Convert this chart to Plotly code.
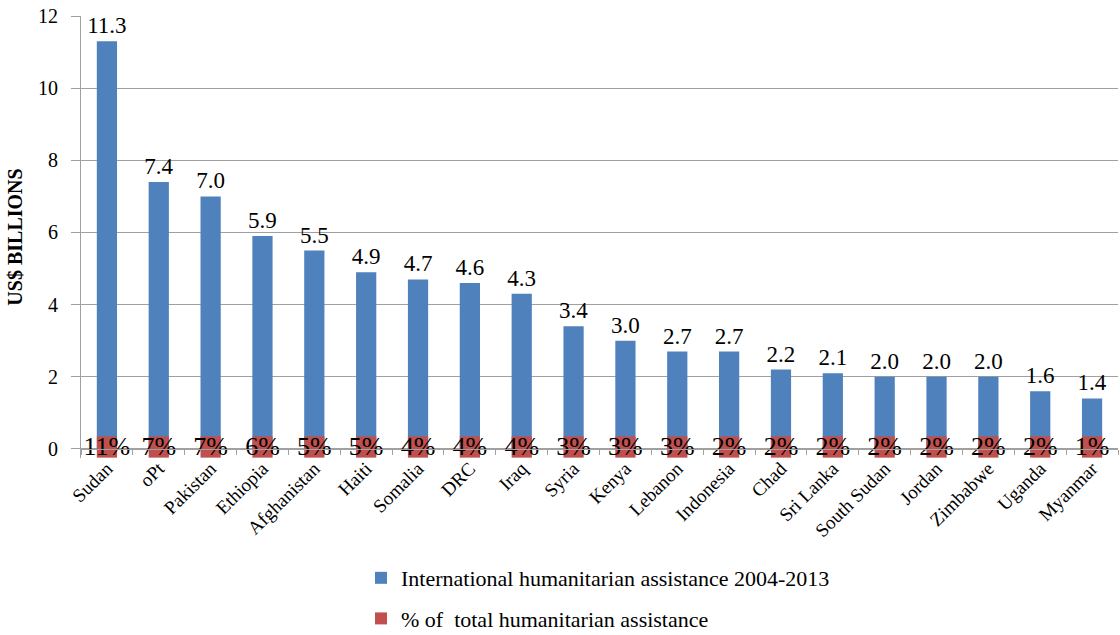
import plotly.graph_objects as go

countries = ["Sudan", "oPt", "Pakistan", "Ethiopia", "Afghanistan", "Haiti", "Somalia", "DRC",
             "Iraq", "Syria", "Kenya", "Lebanon", "Indonesia", "Chad", "Sri Lanka", "South Sudan",
             "Jordan", "Zimbabwe", "Uganda", "Myanmar"]
assistance_bn = [11.3, 7.4, 7.0, 5.9, 5.5, 4.9, 4.7, 4.6, 4.3, 3.4, 3.0, 2.7, 2.7, 2.2, 2.1,
                 2.0, 2.0, 2.0, 1.6, 1.4]
share_pct = [11, 7, 7, 6, 5, 5, 4, 4, 4, 3, 3, 3, 2, 2, 2, 2, 2, 2, 2, 1]

BLUE = "#4F81BD"
RED = "#C0504D"
SERIF = "Liberation Serif"

Y_MIN, Y_MAX = -0.25, 12
MARK_BASE, MARK_H = -0.24, 0.59  # fixed-size marker for the % series

fig = go.Figure()
fig.add_trace(go.Bar(
    x=countries, y=assistance_bn, name="International humanitarian assistance 2004-2013",
    marker=dict(color=BLUE, line=dict(width=0)),
    text=[f"{v:.1f}" for v in assistance_bn], textposition="outside",
    constraintext="none",
    textfont=dict(family=SERIF, size=23, color="#000"), cliponaxis=False,
    legendgroup="a", width=0.39,
))
fig.add_trace(go.Bar(
    x=countries, y=[MARK_H] * len(countries), base=[MARK_BASE] * len(countries),
    name="% of  total humanitarian assistance",
    marker=dict(color=RED, line=dict(width=0)),
    text=[f"{p}%" for p in share_pct], textposition="inside", insidetextanchor="middle",
    constraintext="none", textangle=0,
    textfont=dict(family=SERIF, size=26, color="#000"),
    legendgroup="b", width=0.39,
))

fig.update_layout(
    width=1120, height=635,
    margin=dict(l=81, r=2, t=16, b=177, autoexpand=False),
    plot_bgcolor="white", paper_bgcolor="white",
    barmode="overlay",
    showlegend=True,
    legend=dict(x=0.27, y=-0.224, xanchor="left", yanchor="top",
                font=dict(family=SERIF, size=22, color="#000"),
                tracegroupgap=9, itemwidth=30, traceorder="grouped"),
    xaxis=dict(
        anchor="free", position=(0 - Y_MIN) / (Y_MAX - Y_MIN),
        tickangle=-45, tickfont=dict(family=SERIF, size=19, color="#000"),
        showline=True, linecolor="#A0A0A0", linewidth=1,
        ticks="outside", tickson="boundaries", ticklen=5, tickcolor="#A0A0A0",
        showgrid=False,
    ),
    yaxis=dict(
        range=[Y_MIN, Y_MAX], tickvals=[0, 2, 4, 6, 8, 10, 12],
        tickfont=dict(family=SERIF, size=20, color="#000"),
        showgrid=True, gridcolor="#A0A0A0", gridwidth=1,
        zeroline=False,
        showline=True, linecolor="#A0A0A0", linewidth=1,
        ticks="outside", ticklen=9, tickcolor="#A0A0A0",
        ticklabelstandoff=9,
        title=dict(text="<b>US$ BILLIONS</b>", font=dict(family=SERIF, size=20, color="#000"),
                   standoff=10),
    ),
)

fig.write_html("out.html")
